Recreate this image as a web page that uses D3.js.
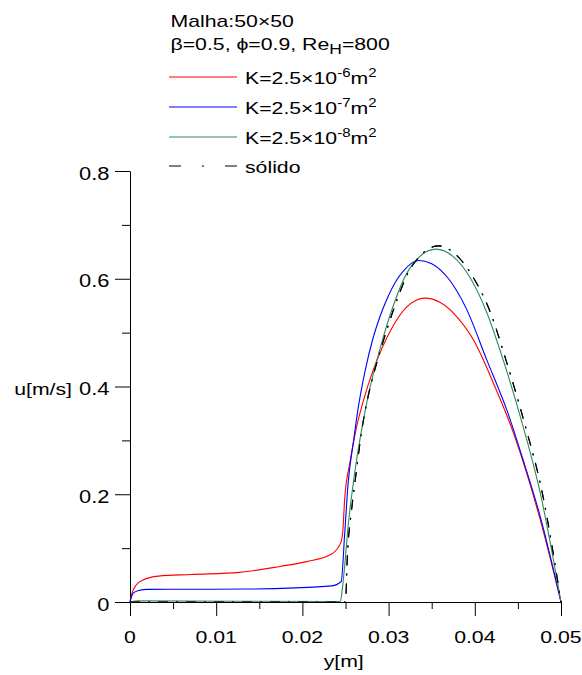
<!DOCTYPE html>
<html>
<head>
<meta charset="utf-8">
<script src="https://cdn.jsdelivr.net/npm/d3@7/dist/d3.min.js"></script>
<style>
  html, body { margin: 0; padding: 0; background: #fff; }
  svg { display: block; }
  text { font-family: Arial, "Liberation Sans", sans-serif; fill: #000; }
</style>
</head>
<body>
<div id="chart"></div>
<script>
// ---------------- DATA ----------------
const legendTitle = "Malha:50×50";
const seriesNames = ["K=2.5×10-6m2", "K=2.5×10-7m2", "K=2.5×10-8m2", "sólido"];
const seriesExp = ["-6", "-7", "-8", null];

const yRed = [0, 0.00023, 0.00074, 0.0015, 0.0033, 0.0071, 0.0127, 0.0174, 0.0205, 0.0234, 0.0245, 0.0247, 0.0249, 0.0255, 0.0263, 0.0271, 0.0282, 0.0292, 0.0305, 0.032, 0.0332, 0.0342, 0.036, 0.038, 0.040, 0.041, 0.042, 0.0445, 0.0476, 0.05];
const uRed = [0, 0.016, 0.032, 0.041, 0.048, 0.051, 0.055, 0.066, 0.075, 0.089, 0.112, 0.134, 0.19, 0.258, 0.326, 0.375, 0.43, 0.47, 0.512, 0.546, 0.560, 0.564, 0.556, 0.528, 0.482, 0.449, 0.412, 0.313, 0.152, 0];

const yBlue = [0, 0.00035, 0.0009, 0.0021, 0.0071, 0.0133, 0.0234, 0.0245, 0.0249, 0.0253, 0.0259, 0.0265, 0.0273, 0.0282, 0.029, 0.0298, 0.0308, 0.0317, 0.0326, 0.0335, 0.035, 0.037, 0.039, 0.0414, 0.0437, 0.0456, 0.0476, 0.05];
const uBlue = [0, 0.016, 0.021, 0.0235, 0.0236, 0.024, 0.030, 0.038, 0.125, 0.22, 0.295, 0.363, 0.431, 0.49, 0.53, 0.562, 0.594, 0.614, 0.628, 0.634, 0.628, 0.599, 0.545, 0.449, 0.357, 0.264, 0.158, 0];

const yGreen = [0, 0.001, 0.0244, 0.0246, 0.0249, 0.0253, 0.0259, 0.0265, 0.0271, 0.0278, 0.029, 0.0305, 0.0321, 0.0336, 0.0355, 0.0375, 0.0395, 0.0414, 0.0433, 0.0456, 0.0476, 0.05];
const uGreen = [0, 0.002, 0.001, 0.02, 0.066, 0.14, 0.22, 0.285, 0.34, 0.395, 0.47, 0.548, 0.61, 0.641, 0.655, 0.641, 0.601, 0.537, 0.449, 0.326, 0.202, 0];

const ySolid = [0, 0.025, 0.0252, 0.0257, 0.0262, 0.0269, 0.0276, 0.0283, 0.0293, 0.0308, 0.0323, 0.0338, 0.0358, 0.0378, 0.0398, 0.0418, 0.0435, 0.0458, 0.0478, 0.05];
const uSolid = [0, 0, 0.08, 0.17, 0.235, 0.32, 0.38, 0.425, 0.48, 0.553, 0.612, 0.645, 0.661, 0.645, 0.603, 0.538, 0.455, 0.33, 0.205, 0];

const xMajorTicks = [0, 0.01, 0.02, 0.03, 0.04, 0.05];
const xTickLabels = ["0", "0.01", "0.02", "0.03", "0.04", "0.05"];
const xMinorTicks = [0.005, 0.015, 0.025, 0.035, 0.045];
const yMajorTicks = [0, 0.2, 0.4, 0.6, 0.8];
const yTickLabels = ["0", "0.2", "0.4", "0.6", "0.8"];
const yMinorTicks = [0.1, 0.3, 0.5, 0.7];

const colors = ["#ff0000", "#0000ff", "#2e8b57", "#000000"];

// ---------------- LAYOUT ----------------
const W = 582, H = 675;
const SX = 1.25;          // horizontal stretch of the glyphs
const FS = 17;            // font size

const svg = d3.select("#chart").append("svg").attr("width", W).attr("height", H);

const x = d3.scaleLinear().domain([0, 0.05]).range([130, 561]);
const y = d3.scaleLinear().domain([0, 0.8]).range([602, 171]);

function txt(px, py, anchor, size) {
  return svg.append("text")
    .attr("transform", `translate(${px},${py}) scale(${SX},1)`)
    .attr("text-anchor", anchor)
    .style("font-size", (size || FS) + "px");
}

// axes (tick lines via d3 axis)
const axStyle = g => {
  g.selectAll("path, line").attr("stroke", "#000").attr("stroke-width", 1);
  g.selectAll("text").remove();
};
svg.append("g").attr("transform", "translate(0,602)")
  .call(d3.axisBottom(x).tickValues(xMajorTicks).tickSize(14).tickSizeOuter(0).tickFormat(""))
  .call(axStyle);
svg.append("g").attr("transform", "translate(0,602)")
  .call(d3.axisBottom(x).tickValues(xMinorTicks).tickSize(7).tickSizeOuter(0).tickFormat(""))
  .call(g => { g.select(".domain").remove(); axStyle(g); });
svg.append("g").attr("transform", "translate(130,0)")
  .call(d3.axisLeft(y).tickValues(yMajorTicks).tickSize(15).tickSizeOuter(0).tickFormat(""))
  .call(axStyle);
svg.append("g").attr("transform", "translate(130,0)")
  .call(d3.axisLeft(y).tickValues(yMinorTicks).tickSize(8).tickSizeOuter(0).tickFormat(""))
  .call(g => { g.select(".domain").remove(); axStyle(g); });

// tick labels
xMajorTicks.forEach((v, i) => txt(x(v), 643, "middle", 17).text(xTickLabels[i]));
yMajorTicks.forEach((v, i) => txt(109.5, y(v) + 8.5, "end", 17.5).text(yTickLabels[i]));

// axis titles
txt(343.7, 667, "middle", 17).text("y[m]");
txt(72, y(0.4) + 8.5, "end", 17).text("u[m/s]");

// ---------------- SERIES ----------------
const line = d3.line().x(d => x(d[0])).y(d => y(d[1])).curve(d3.curveMonotoneX);
const series = [
  d3.zip(yRed, uRed),
  d3.zip(yBlue, uBlue),
  d3.zip(yGreen, uGreen),
  d3.zip(ySolid, uSolid)
];
const dashes = [null, null, null, "10,8,2,8"];

[3, 0, 1, 2, 3].forEach(i => {
  svg.append("path")
    .attr("d", line(series[i]))
    .attr("fill", "none")
    .attr("stroke", colors[i])
    .attr("stroke-width", 1.1)
    .attr("stroke-dasharray", dashes[i]);
});

// ---------------- LEGEND ----------------
txt(170.5, 27, "start", 17).text(legendTitle);
{
  const t = txt(170.5, 49.5, "start", 17);
  t.append("tspan").text("β=0.5, ϕ=0.9, Re");
  t.append("tspan").attr("dy", 4).style("font-size", "14px").text("H");
  t.append("tspan").attr("dy", -4).text("=800");
}
const legY = [77, 107, 137, 166];
seriesNames.forEach((name, i) => {
  svg.append("line")
    .attr("x1", 169).attr("x2", 237)
    .attr("y1", legY[i]).attr("y2", legY[i])
    .attr("stroke", colors[i]).attr("stroke-width", 1)
    .attr("stroke-dasharray", i === 3 ? "12,21,2,21" : null);
  const t = txt(245, legY[i] + 6.5, "start", 17);
  if (seriesExp[i]) {
    t.append("tspan").text("K=2.5×10");
    t.append("tspan").attr("dy", -7).style("font-size", "12px").text(seriesExp[i]);
    t.append("tspan").attr("dy", 7).text("m");
    t.append("tspan").attr("dy", -7).style("font-size", "12px").text("2");
  } else {
    t.text(name);
  }
});
</script>
</body>
</html>
